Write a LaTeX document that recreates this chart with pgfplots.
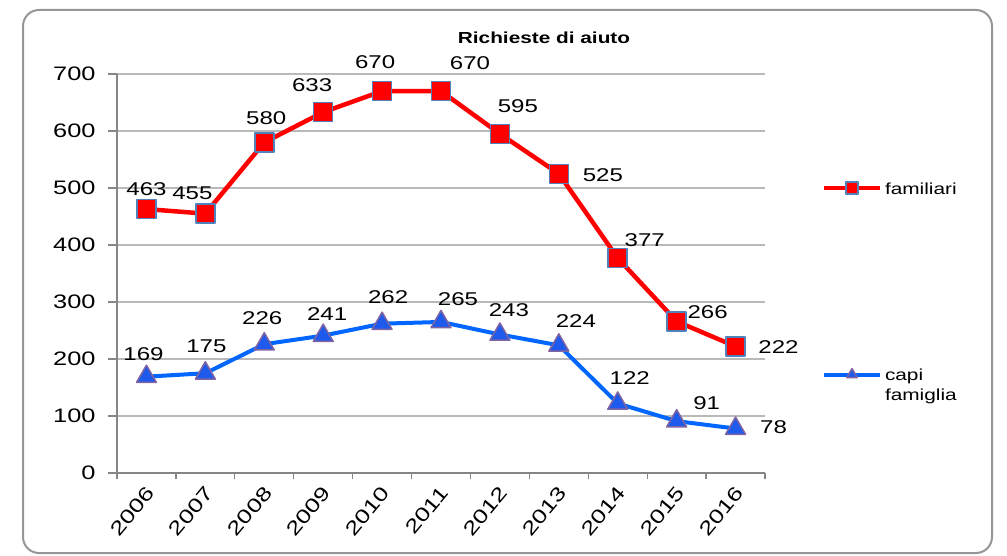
\documentclass[border=0pt]{standalone}
\usepackage{fontspec}
\setmainfont{Liberation Sans}
\usepackage{graphicx}
\usepackage{pgfplots}
\usepackage{pgfplotstable}
\pgfplotsset{compat=1.18}
\newcommand{\sx}[1]{\scalebox{1.3}[1]{#1}}
\definecolor{fred}{RGB}{255,0,0}
\definecolor{sqedge}{RGB}{79,129,189}
\definecolor{fblue}{RGB}{0,102,255}
\definecolor{trifill}{RGB}{30,90,235}
\definecolor{triedge}{RGB}{128,100,162}
\definecolor{axisgray}{RGB}{134,134,134}
\definecolor{gridgray}{RGB}{185,185,185}
\definecolor{framegray}{RGB}{150,150,150}

\pgfplotstableread{
x y dx dy
0 463 0 20
1 455 -13 20
2 580 2 24
3 633 -11 27
4 670 -7 29
5 670 29 28
6 595 18 28
7 525 44 -1
8 377 27 18
9 266 31 9
10 222 43 -1
}\famtab

\pgfplotstableread{
x y dx dy
0 169 -3 23
1 175 1 27
2 226 -2 26
3 241 4 22
4 262 6 27
5 265 17 23
6 243 9 24
7 224 17 24
8 122 12 25
9 91 30 18
10 78 38 1
}\capitab

\begin{document}
\begin{tikzpicture}
\useasboundingbox (0pt,0pt) rectangle (1007pt,555pt);
\draw[framegray, line width=2pt, rounded corners=16pt] (23pt,2pt) rectangle (992pt,545pt);
\node[font=\fontsize{16}{18}\selectfont\bfseries] at (544pt,517pt) {\sx{Richieste di aiuto}};
\begin{axis}[
  at={(117pt,82pt)}, anchor=south west,
  scale only axis, width=648pt, height=399pt,
  xmin=-0.5, xmax=10.5, ymin=0, ymax=700,
  axis x line*=bottom, axis y line*=left,
  axis line style={axisgray, line width=1.3pt, -},
  tick align=outside,
  major tick length=9pt, minor tick length=6pt,
  tick style={axisgray, line width=1.3pt},
  major x tick style={draw=none},
  xtick={0,1,...,10},
  minor xtick={-0.5,0.5,...,10.5},
  xticklabels={\sx{2006},\sx{2007},\sx{2008},\sx{2009},\sx{2010},\sx{2011},\sx{2012},\sx{2013},\sx{2014},\sx{2015},\sx{2016}},
  xticklabel style={font=\fontsize{19.5}{22}\selectfont, yshift=-5pt, xshift=6pt, rotate=50, anchor=east},
  ytick={0,100,...,700},
  yticklabels={\sx{0},\sx{100},\sx{200},\sx{300},\sx{400},\sx{500},\sx{600},\sx{700}},
  yticklabel style={font=\fontsize{19.5}{22}\selectfont, anchor=east, xshift=-9pt},
  ymajorgrids, grid style={gridgray, line width=1.2pt},
  legend style={at={(1.088,0.7318)}, anchor=north west, draw=none, fill=none,
    inner sep=0pt, outer sep=0pt, row sep=173.5pt, column sep=3pt,
    cells={anchor=base west},
    nodes={inner sep=0pt, text height=13pt, text depth=0pt, font=\fontsize{16}{20}\selectfont}},
  legend image code/.code={\draw[mark repeat=2,mark phase=2,#1] plot coordinates {(0pt,6pt) (28pt,6pt) (56pt,6pt)};},
  legend image post style={mark size=6pt, line width=4pt},
]
\addplot[color=fred, line width=4.5pt, line join=round,
  mark=square*, mark size=9.5pt, mark options={fill=fred, draw=sqedge, line width=1.5pt, solid},
  point meta=explicit symbolic,
  nodes near coords={\sx{\pgfplotspointmeta}},
  visualization depends on={\thisrow{dx} \as \myDX},
  visualization depends on={\thisrow{dy} \as \myDY},
  every node near coord/.append style={anchor=center, text=black, xshift=\myDX pt, yshift=\myDY pt, font=\fontsize{18.5}{20}\selectfont}]
  table[x=x, y=y, meta=y] {\famtab};
\addlegendentry{\sx{familiari}}
\addplot[color=fblue, line width=4pt, line join=round,
  mark=triangle*, mark size=11.5pt, mark options={fill=trifill, draw=triedge, line width=1.5pt, solid},
  point meta=explicit symbolic,
  nodes near coords={\sx{\pgfplotspointmeta}},
  visualization depends on={\thisrow{dx} \as \myDX},
  visualization depends on={\thisrow{dy} \as \myDY},
  every node near coord/.append style={anchor=center, text=black, xshift=\myDX pt, yshift=\myDY pt, font=\fontsize{18.5}{20}\selectfont}]
  table[x=x, y=y, meta=y] {\capitab};
\addlegendentry{\begin{tabular}[t]{@{}l@{}}\sx{capi}\\\sx{famiglia}\end{tabular}}
\end{axis}
\end{tikzpicture}
\end{document}
